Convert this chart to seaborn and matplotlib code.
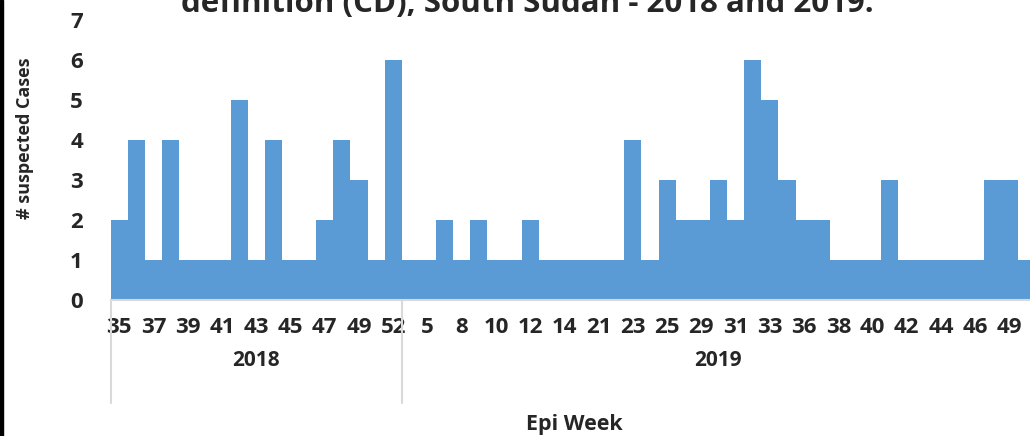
import pandas as pd
import seaborn as sns
import matplotlib.pyplot as plt
from matplotlib.patches import Rectangle
import matplotlib.transforms as mtransforms

# Epi weeks and suspected cases
weeks_2018 = [35, 36, 37, 38, 39, 40, 41, 42, 43, 44, 45, 46, 47, 48, 49, 50, 52]
cases_2018 = [2, 4, 1, 4, 1, 1, 1, 5, 1, 4, 1, 1, 2, 4, 3, 1, 6]

weeks_2019 = [3, 5, 6, 8, 9, 10, 11, 12, 13, 14, 17, 21, 22, 23, 24, 25, 27, 29, 30,
              31, 32, 33, 34, 36, 37, 38, 39, 40, 41, 42, 43, 44, 45, 46, 48, 49, 50]
cases_2019 = [1, 1, 2, 1, 2, 1, 1, 2, 1, 1, 1, 1, 1, 4, 1, 3, 2, 2, 3,
              2, 6, 5, 3, 2, 2, 1, 1, 1, 3, 1, 1, 1, 1, 1, 3, 3, 1]

years = ["2018", "2019"]

df = pd.DataFrame({
    "Year": ["2018"] * len(weeks_2018) + ["2019"] * len(weeks_2019),
    "Week": weeks_2018 + weeks_2019,
    "Cases": cases_2018 + cases_2019,
})
df["Key"] = df["Year"] + "-" + df["Week"].astype(str)

sns.set_style("white")
plt.rcParams["font.family"] = ["Open Sans", "DejaVu Sans"]
plt.rcParams["font.weight"] = "bold"

W, H = 1030, 436
fig = plt.figure(figsize=(W / 100, H / 100), dpi=100)
ax = fig.add_axes([110.7 / W, 136 / H, 924.5 / W, 280 / H])

sns.barplot(data=df, x="Key", y="Cases", color="#5B9BD5", saturation=1,
            width=1.0, linewidth=0, ax=ax)

n = len(df)
ax.set_xlim(-0.5, n - 0.5)
ax.set_ylim(0, 7)
ax.set_yticks(range(0, 8))
ax.set_yticklabels([str(i) for i in range(0, 8)], fontsize=16, fontweight="bold")

# every other category label, as Excel does
pos = list(range(0, n, 2))
ax.set_xticks(pos)
ax.set_xticklabels([str(w) for w in df["Week"].iloc[pos]], fontsize=16,
                   fontweight="bold")
ax.tick_params(axis="x", length=0, pad=12)
ax.tick_params(axis="y", length=0, pad=20)

for s in ["top", "right", "left"]:
    ax.spines[s].set_visible(False)
ax.spines["bottom"].set_color("#d9d9d9")
ax.spines["bottom"].set_linewidth(1.5)
ax.set_xlabel("")
ax.set_ylabel("")

# year group labels and separators
trans = mtransforms.blended_transform_factory(ax.transData, ax.transAxes)
n18 = len(weeks_2018)
for xsep in [-0.5, n18 - 0.5]:
    ax.plot([xsep, xsep], [0, -103 / 280], transform=trans, color="#d9d9d9",
            lw=1.5, clip_on=False)
ax.text((n18 - 1) / 2, -60 / 280, years[0], transform=trans, ha="center",
        va="center", fontsize=15, fontweight="bold")
ax.text((n18 + n - 1) / 2, -60 / 280, years[1], transform=trans, ha="center",
        va="center", fontsize=15, fontweight="bold")

fig.text(574 / W, 1 - 424 / H, "Epi Week", ha="center", va="center",
         fontsize=15.5, fontweight="bold")
fig.text(25 / W, 1 - 138 / H, "# suspected Cases", ha="center", va="center",
         rotation=90, fontsize=13, fontweight="bold")
fig.text(527 / W, 1 - 12 / H, "definition (CD), South Sudan - 2018 and 2019.",
         ha="center", va="baseline", fontsize=22.5, fontweight="bold")

# dark border at the left edge of the screenshot
fig.patches.append(Rectangle((0, 0), 3 / W, 1, transform=fig.transFigure,
                             color="black", zorder=10))

fig.savefig("out.png", dpi=100)
